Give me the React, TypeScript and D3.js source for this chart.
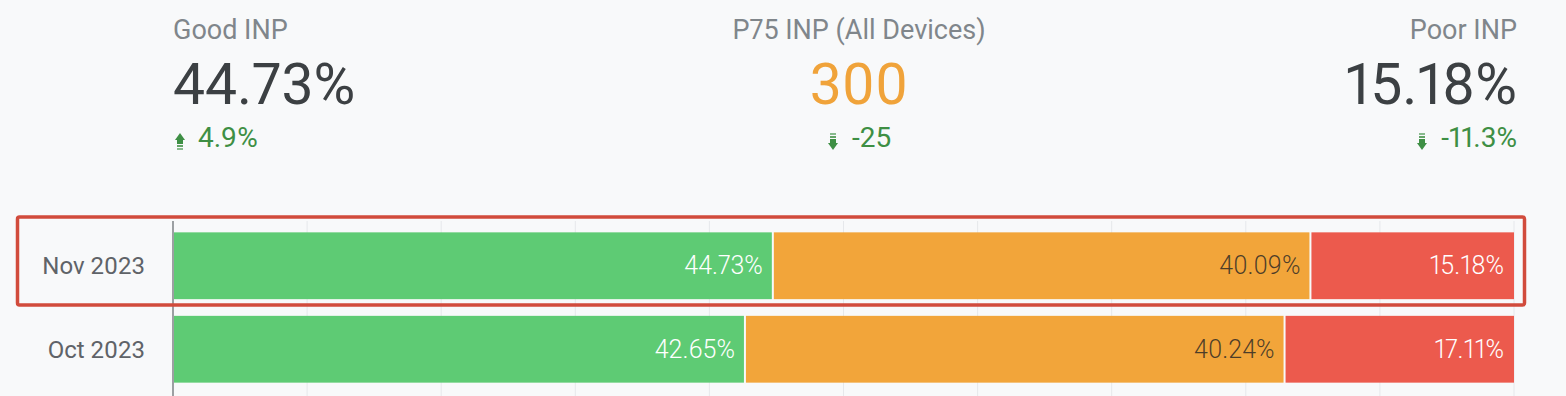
import React from "react";
import * as d3 from "d3";

// Chart data
const months = ["Nov 2023", "Oct 2023"];
const goodPct = [44.73, 42.65];
const needsPct = [40.09, 40.24];
const poorPct = [15.18, 17.11];

const headerLabels = ["Good INP", "P75 INP (All Devices)", "Poor INP"];
const headerValues = ["44.73%", "300", "15.18%"];
const headerChanges = ["4.9%", "-25", "-11.3%"];
const headerDirections = ["up", "down", "down"];

const gridTicks = [10, 20, 30, 40, 50, 60, 70, 80, 90, 100];

const W = 1566;
const H = 396;
const FONT = "Roboto, 'Noto Sans', sans-serif";

const segColors = ["#5ecb74", "#f2a53a", "#ec5a4d"];
const labelColors = ["#ffffff", "rgba(32,33,36,0.78)", "#ffffff"];
const keys = ["good", "needs", "poor"];

const Arrow = ({ x, y, dir }: { x: number; y: number; dir: string }) => {
  // small striped arrow icon, x = left, y = top
  const c = "#3e8f44";
  if (dir === "up") {
    return (
      <g>
        <path d={`M${x + 5},${y} L${x + 10},${y + 7} L${x},${y + 7} Z`} fill={c} />
        <rect x={x + 2} y={y + 7} width={6} height={4} fill={c} />
        <rect x={x + 2} y={y + 12} width={6} height={2} fill={c} opacity={0.8} />
        <rect x={x + 2} y={y + 15} width={6} height={2} fill={c} opacity={0.6} />
      </g>
    );
  }
  return (
    <g>
      <rect x={x + 2} y={y} width={6} height={2} fill={c} opacity={0.6} />
      <rect x={x + 2} y={y + 3} width={6} height={2} fill={c} opacity={0.8} />
      <rect x={x + 2} y={y + 6} width={6} height={4} fill={c} />
      <path d={`M${x},${y + 10} L${x + 10},${y + 10} L${x + 5},${y + 17} Z`} fill={c} />
    </g>
  );
};

export default function App() {
  const x = d3.scaleLinear().domain([0, 100]).range([173, 1514]);
  const y = d3.scaleBand().domain(months).range([224, 391]).paddingInner(0.2).paddingOuter(0.1);

  const rows = months.map((m, i) => ({
    month: m,
    good: goodPct[i],
    needs: needsPct[i],
    poor: poorPct[i],
  }));
  const stacked = d3.stack<any>().keys(keys)(rows);

  const headerX = [173, 859, 1517];
  const anchors = ["start", "middle", "end"];
  // change line: arrow left and text start, relative to the anchor
  const arrowOff = [2, -31, -100];
  const chgOff = [25, -7, 0];
  const chgAnchor = ["start", "start", "end"];

  return (
    <svg
      width={W}
      height={H}
      style={{ position: "absolute", left: 0, top: 0, display: "block", fontFeatureSettings: '"pnum"' }}
      fontFamily={FONT}
    >
      <rect width={W} height={H} fill="#f8f9fa" />

      {/* header stats */}
      {headerLabels.map((lab, i) => (
        <g key={lab}>
          <text x={headerX[i]} y={39} textAnchor={anchors[i]} fontSize={27} fill="#80868b">
            {lab}
          </text>
          <text
            x={headerX[i]}
            y={104}
            textAnchor={anchors[i]}
            fontSize={57}
            fill={i === 1 ? "#f0a33a" : "#3c4043"}
          >
            {headerValues[i]}
          </text>
          <Arrow x={headerX[i] + arrowOff[i]} y={133} dir={headerDirections[i]} />
          <text x={headerX[i] + chgOff[i]} y={147} textAnchor={chgAnchor[i]} fontSize={28} fill="#3e8f44">
            {headerChanges[i]}
          </text>
        </g>
      ))}

      {/* grid */}
      {gridTicks.map((t) => (
        <line key={t} x1={x(t)} x2={x(t)} y1={221} y2={H} stroke="#e6e8eb" strokeWidth={1} />
      ))}

      {/* bars */}
      {stacked.map((series, si) => (
        <g key={series.key}>
          {series.map((d, ri) => {
            const x0 = x(d[0]) + 1;
            const x1 = x(d[1]) - (si === keys.length - 1 ? 0 : 1);
            const yy = y(months[ri]) as number;
            return (
              <g key={ri}>
                <rect x={x0} y={yy} width={x1 - x0} height={y.bandwidth()} fill={segColors[si]} />
                <text
                  x={x(d[1]) - 10}
                  y={yy + y.bandwidth() / 2 + 8.5}
                  textAnchor="end"
                  fontSize={25}
                  fontWeight={300}
                  fill={labelColors[si]}
                >
                  {(d[1] - d[0]).toFixed(2)}%
                </text>
              </g>
            );
          })}
        </g>
      ))}

      {/* month labels */}
      {months.map((m) => (
        <text
          key={m}
          x={145}
          y={(y(m) as number) + y.bandwidth() / 2 + 8.5}
          textAnchor="end"
          fontSize={24}
          fontWeight={400}
          fill="#5f6368"
        >
          {m}
        </text>
      ))}

      {/* axis line */}
      <line x1={173} x2={173} y1={221} y2={H} stroke="#5f6368" strokeWidth={1.2} />

      {/* highlight box around latest month */}
      <rect
        x={17.5}
        y={217}
        width={1507}
        height={88}
        rx={2}
        fill="none"
        stroke="#d14b3c"
        strokeWidth={3.5}
      />
    </svg>
  );
}
